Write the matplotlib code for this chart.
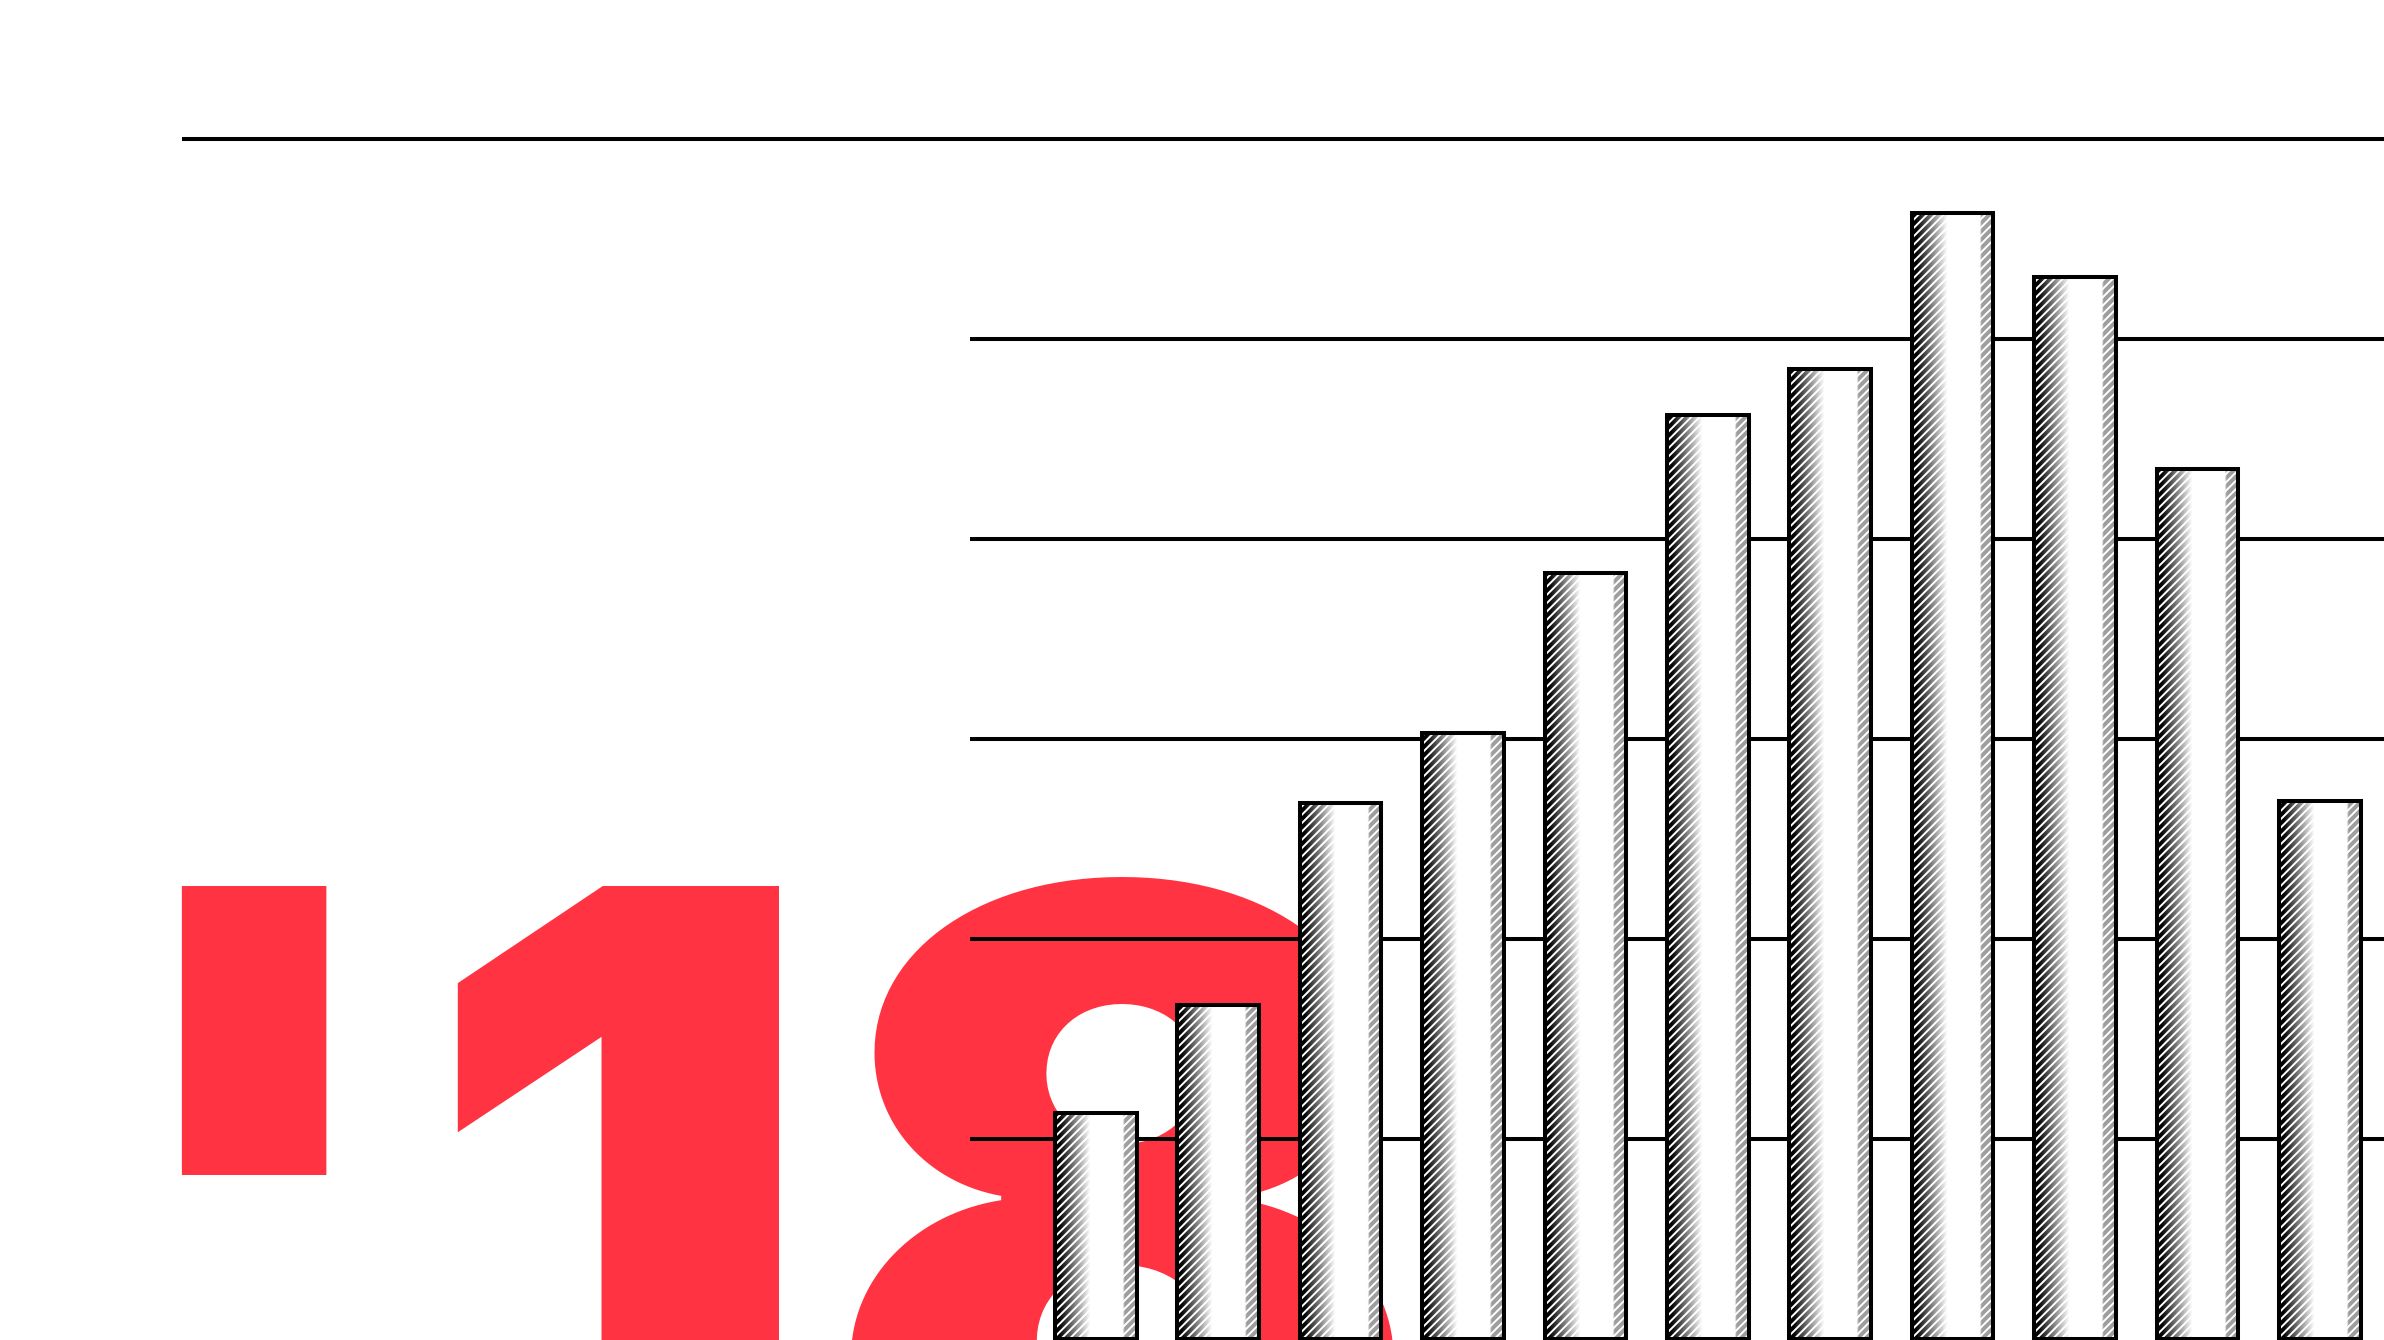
import numpy as np
import matplotlib
matplotlib.use("Agg")
import matplotlib.pyplot as plt

# monthly values (no axis labels are shown)
months = ["Jan", "Feb", "Mar", "Apr", "May", "Jun", "Jul", "Aug", "Sep", "Oct", "Nov"]
values = [1.13, 1.67, 2.68, 3.03, 3.83, 4.62, 4.85, 5.63, 5.31, 4.35, 2.69]
grid_levels = [1, 2, 3, 4, 5]
top_level = 6
year_label = "'18"

RED = "#ff3341"
plt.rcParams["hatch.linewidth"] = 1.4

fig = plt.figure(figsize=(23.84, 13.40), dpi=100)
ax = fig.add_axes([0, 0, 1, 1])
ax.axis("off")

x = np.arange(len(values))
bar_w = 0.667
x_left, x_right = -8.953, 10.525

# big red year behind everything, cut by the bottom edge
ax.text(0.037, -0.143, year_label, transform=ax.transAxes, ha="left", va="baseline",
        fontsize=640, fontweight="black", family=["Inter", "DejaVu Sans"],
        color=RED, zorder=0)

ax.hlines(grid_levels, -1.028, x_right, color="black", lw=2.9, zorder=1)
ax.hlines(top_level, -7.466, x_right, color="black", lw=2.9, zorder=1)

# shading across each bar: dark left side, white body, grey strip on the right
fx = np.linspace(0, 1, 200)
shade = np.interp(fx, [0, 0.05, 0.43, 0.83, 0.85, 0.97, 1.0],
                  [0.0, 0.0, 1.0, 1.0, 0.62, 0.62, 0.62])

base = ax.bar(x, values, width=bar_w, color="white", linewidth=0, zorder=2)
for rect in base:
    x0 = rect.get_x()
    h = rect.get_height()
    im = ax.imshow(shade[np.newaxis, :], cmap="gray", vmin=0, vmax=1,
                   extent=[x0, x0 + bar_w, 0, h], aspect="auto",
                   interpolation="bilinear", zorder=3)
    im.set_clip_path(rect)

ax.bar(x, values, width=bar_w, facecolor="none", edgecolor="white",
       linewidth=0, hatch="////", zorder=4)
ax.bar(x, values, width=bar_w, facecolor="none", edgecolor="black",
       linewidth=2.9, zorder=5)

ax.set_xlim(x_left, x_right)
ax.set_ylim(-0.0075, 6.6925)

fig.savefig("out.png", dpi=100, facecolor="white")
